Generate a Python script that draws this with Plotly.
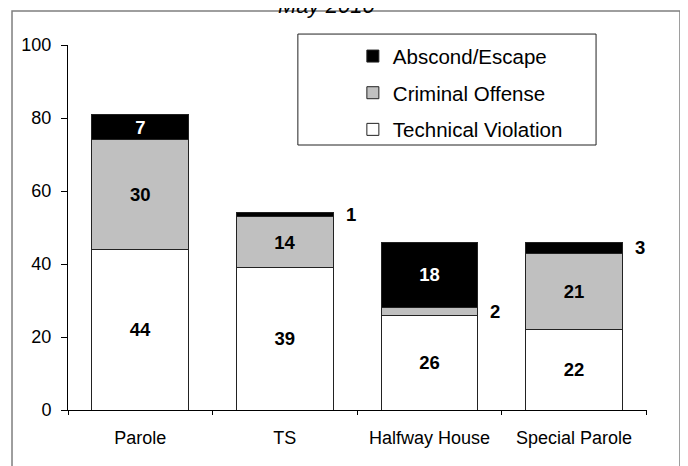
import plotly.graph_objects as go

categories = ["Parole", "TS", "Halfway House", "Special Parole"]
technical = [44, 39, 26, 22]
criminal = [30, 14, 2, 21]
abscond = [7, 1, 18, 3]
y_ticks = [0, 20, 40, 60, 80, 100]
title_text = "May 2010"

FONT = "Liberation Sans, Arial, sans-serif"
SMALL = 5  # segments smaller than this get their label outside the bar

def inside_text(vals):
    return [str(v) if v >= SMALL else "" for v in vals]

series = [
    ("Technical Violation", technical, "#FFFFFF", "black", 3),
    ("Criminal Offense", criminal, "#C0C0C0", "black", 2),
    ("Abscond/Escape", abscond, "#000000", "white", 1),
]

fig = go.Figure()
for name, vals, fill, tcolor, rank in series:
    fig.add_trace(go.Bar(
        name=name, x=categories, y=vals,
        marker=dict(color=fill, line=dict(color="#222222", width=1)),
        text=inside_text(vals), textposition="inside", insidetextanchor="middle",
        textangle=0, textfont=dict(family=FONT, size=18.5, color=tcolor, weight="bold"),
        legendgroup=name, legendrank=rank,
    ))

# outside labels for small segments
annotations = []
bases = [0] * len(categories)
for name, vals, fill, tcolor, rank in series:
    for j, v in enumerate(vals):
        if v < SMALL:
            annotations.append(dict(
                x=categories[j], y=bases[j] + v / 2, xref="x", yref="y",
                text=f"<b>{v}</b>", showarrow=False, xshift=66,
                font=dict(family=FONT, size=18.5, color="black"),
            ))
        bases[j] += v

annotations.append(dict(
    x=0.447, y=1.068, xref="paper", yref="paper", xanchor="center", yanchor="bottom",
    text=f"<i>{title_text}</i>", showarrow=False,
    font=dict(family=FONT, size=22, color="black"),
))

shapes = [
    # outer chart border
    dict(type="rect", xref="paper", yref="paper", x0=-0.0967, x1=1.057, y0=-0.25, y1=1.093,
         line=dict(color="#7f7f7f", width=1.5), layer="below"),
    # legend box
    dict(type="rect", xref="paper", yref="paper", x0=0.397, x1=0.912, y0=0.726, y1=1.030,
         line=dict(color="#222222", width=1), fillcolor="white", layer="below"),
]

fig.update_layout(
    width=680, height=458,
    margin=dict(l=60, r=41, t=37, b=56, autoexpand=False),
    paper_bgcolor="white", plot_bgcolor="white",
    barmode="stack", bargap=0.33,
    font=dict(family=FONT, size=18, color="black"),
    showlegend=True,
    legend=dict(x=0.492, y=1.024, xanchor="left", yanchor="top",
                traceorder="grouped", tracegroupgap=7,
                font=dict(family=FONT, size=20.5), bgcolor="rgba(0,0,0,0)", borderwidth=0),
    uniformtext=dict(minsize=18.5, mode="show"),
    xaxis=dict(showline=True, linecolor="black", linewidth=1, ticks="outside", tickson="boundaries",
               ticklen=4, tickcolor="black", showgrid=False, ticklabelstandoff=11,
               tickfont=dict(family=FONT, size=18)),
    yaxis=dict(range=[0, 100], tickvals=y_ticks, showline=True, linecolor="black", linewidth=1,
               ticks="outside", ticklen=6, tickcolor="black", showgrid=False, zeroline=False,
               ticklabelstandoff=6, tickfont=dict(family=FONT, size=18)),
    annotations=annotations,
    shapes=shapes,
)

fig.write_html("out.html")
